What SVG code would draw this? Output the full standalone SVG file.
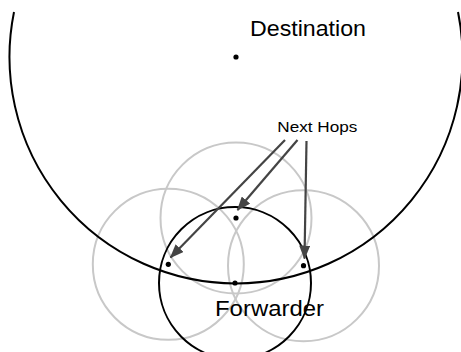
<svg xmlns="http://www.w3.org/2000/svg" width="461" height="352" viewBox="0 0 461 352">
  <style>
    .range { fill: none; stroke: #c8c8c8; stroke-width: 2; }
    .main { fill: none; stroke: #000; stroke-width: 2; }
    .dot { fill: #000; }
    .lbl { font-family: "Liberation Sans", Arial, Helvetica, sans-serif; fill: #000; }
    .arrow { stroke: #444; stroke-width: 2.2; fill: none; marker-end: url(#ah); }
  </style>
  <defs>
    <marker id="ah" markerUnits="userSpaceOnUse" markerWidth="14" markerHeight="11" refX="13" refY="5.5" orient="auto">
      <path d="M0,0 L14,5.5 L0,11 z" fill="#444"/>
    </marker>
  </defs>
  <rect width="461" height="352" fill="#fff"/>

  <g id="range-top"><circle class="range" cx="236" cy="218" r="75.5"/></g>
  <g id="range-left"><circle class="range" cx="168.3" cy="264.3" r="75.5"/></g>
  <g id="range-right"><circle class="range" cx="303.5" cy="265.7" r="75.5"/></g>

  <g id="destination">
    <path class="main" d="M14,12 A226.5,226.5 0 1 0 458,12"/>
    <circle class="dot" cx="236" cy="57" r="2.6"/>
    <text class="lbl" x="250" y="35.5" font-size="22" textLength="116" lengthAdjust="spacingAndGlyphs">Destination</text>
  </g>

  <g id="forwarder">
    <circle class="main" cx="235" cy="283" r="76"/>
    <circle class="dot" cx="235" cy="283" r="2.6"/>
    <text class="lbl" x="215" y="315.5" font-size="22" textLength="109" lengthAdjust="spacingAndGlyphs">Forwarder</text>
  </g>

  <g id="next-hop-top"><circle class="dot" cx="236" cy="218" r="2.6"/></g>
  <g id="next-hop-left"><circle class="dot" cx="168.3" cy="264.3" r="2.6"/></g>
  <g id="next-hop-right"><circle class="dot" cx="303.5" cy="265.7" r="2.6"/></g>

  <g id="next-hops-label">
    <text class="lbl" x="277.3" y="132.3" font-size="15" textLength="80" lengthAdjust="spacingAndGlyphs">Next Hops</text>
  </g>

  <g id="connectors">
    <line class="arrow" x1="285" y1="140" x2="170.5" y2="257.5"/>
    <line class="arrow" x1="297.5" y1="140" x2="237.5" y2="210"/>
    <line class="arrow" x1="306.5" y1="141" x2="304.5" y2="258.5"/>
  </g>
</svg>
